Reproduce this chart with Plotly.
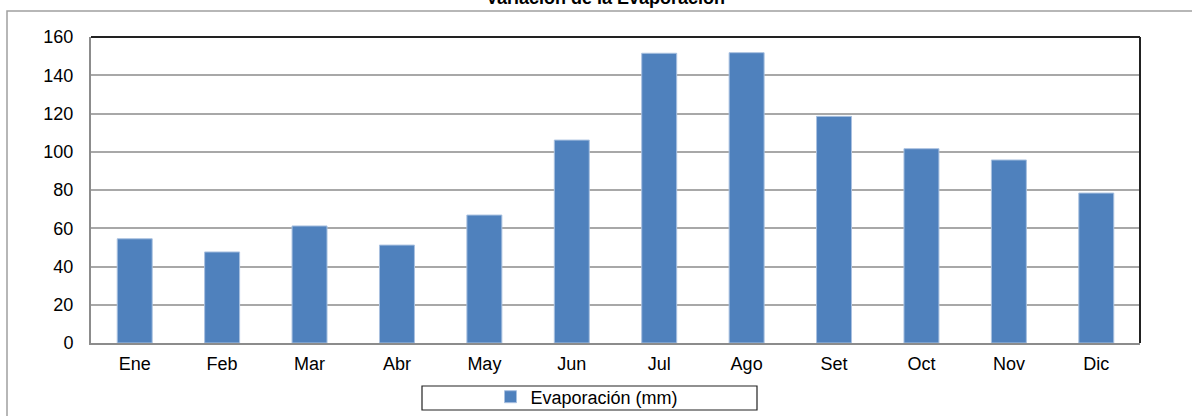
import plotly.graph_objects as go

meses = ["Ene", "Feb", "Mar", "Abr", "May", "Jun", "Jul", "Ago", "Set", "Oct", "Nov", "Dic"]
evaporacion = [54.5, 47.6, 61.2, 51.2, 66.9, 106.1, 151.5, 151.8, 118.5, 101.6, 95.7, 78.4]
serie = "Evaporación (mm)"
titulo = "Variación de la Evaporación"
y_ticks = [0, 20, 40, 60, 80, 100, 120, 140, 160]

W, H = 1192, 416
L, R, T, B = 91, 1140, 37, 343
pw, ph = R - L, B - T

def px(x):
    return (x - L) / pw

def py(y):
    return (B - y) / ph

FONT = "Liberation Sans, Arial, sans-serif"

fig = go.Figure()
fig.add_trace(go.Bar(
    x=meses, y=evaporacion, name=serie,
    marker=dict(color="#4F81BD", line=dict(color="#A9C1E0", width=1)),
    showlegend=True,
))

fig.update_layout(
    width=W, height=H,
    margin=dict(l=L, r=W - R, t=T, b=H - B, pad=0, autoexpand=False),
    paper_bgcolor="white", plot_bgcolor="white",
    font=dict(family=FONT, size=18, color="black"),
    bargap=0.6,
    showlegend=True,
    legend=dict(orientation="h", x=px(587), y=py(397), xanchor="center", yanchor="middle",
                bgcolor="rgba(0,0,0,0)", borderwidth=0, font=dict(size=18, family=FONT),
                itemwidth=30),
    xaxis=dict(showgrid=False, showline=True, linecolor="#8C8C8C", linewidth=2,
               ticks="", ticklabelstandoff=3, tickfont=dict(size=18), automargin=False),
    yaxis=dict(range=[0, 160], tickvals=y_ticks, showgrid=True, gridcolor="#A8A8A8", gridwidth=1.5,
               showline=True, linecolor="#8C8C8C", linewidth=2, ticks="", zeroline=False,
               ticklabelstandoff=12, tickfont=dict(size=18), fixedrange=True, automargin=False),
)

shapes = [
    dict(type="line", xref="paper", yref="paper", x0=0, x1=1, y0=1, y1=1,
         line=dict(color="#222222", width=2)),
    dict(type="line", xref="paper", yref="paper", x0=1, x1=1, y0=0, y1=1,
         line=dict(color="#222222", width=2)),
    dict(type="rect", xref="paper", yref="paper", x0=px(7), x1=px(1300), y0=py(11), y1=py(500),
         line=dict(color="#A0A0A0", width=1.5), layer="below"),
    dict(type="rect", xref="paper", yref="paper", x0=px(422), x1=px(757), y0=py(386), y1=py(410),
         line=dict(color="#222222", width=1.2), fillcolor="rgba(0,0,0,0)"),
]
fig.update_layout(shapes=shapes)

fig.add_annotation(text="<b>" + titulo + "</b>", xref="paper", yref="paper",
                   x=px(605), y=py(10), xanchor="center", yanchor="bottom",
                   showarrow=False, font=dict(size=18, family=FONT, color="black"))

fig.write_html("out.html", config={"displayModeBar": False},
               post_script="document.body.style.margin='0';document.body.style.overflow='hidden';")
